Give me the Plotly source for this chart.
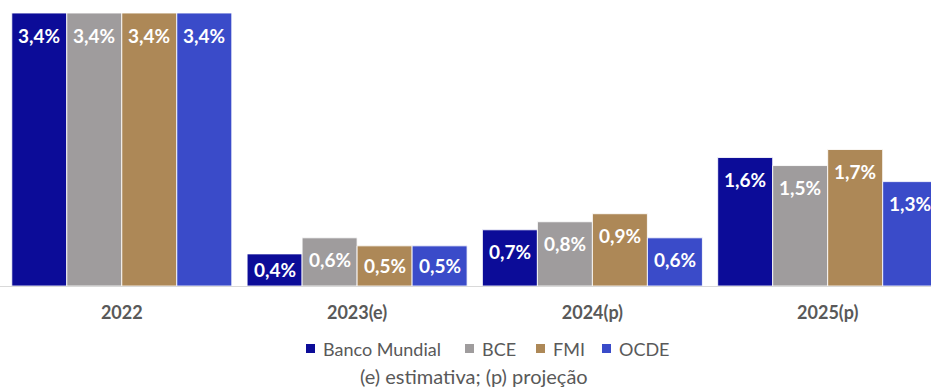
import plotly.graph_objects as go

# Projeções de crescimento por instituição (%)
categorias = ["2022", "2023(e)", "2024(p)", "2025(p)"]
banco_mundial = [3.4, 0.4, 0.7, 1.6]
bce = [3.4, 0.6, 0.8, 1.5]
fmi = [3.4, 0.5, 0.9, 1.7]
ocde = [3.4, 0.5, 0.6, 1.3]

series = [
    ("Banco Mundial", banco_mundial, "#0C0C98"),
    ("BCE", bce, "#9F9C9D"),
    ("FMI", fmi, "#AD8857"),
    ("OCDE", ocde, "#3A4BC9"),
]

FONT = "Lato, 'Open Sans', sans-serif"
CINZA_TEXTO = "#595959"

# geometria do gráfico
LARGURA, ALTURA = 931, 390
ALTURA_PLOT = 286          # px entre o topo e o eixo
Y_MAX = 3.562
PX_POR_UNIDADE = ALTURA_PLOT / Y_MAX
BARGAP = 0.065
LARGURA_CAT = 235.3        # px por categoria
LARGURA_BARRA = LARGURA_CAT * (1 - BARGAP) / len(series)
OFFSET_ROTULO = 22         # distância do topo da barra ao centro do rótulo


def paper_x(px):
    return px / LARGURA


def paper_y(py):
    return (ALTURA_PLOT - py) / ALTURA_PLOT


fig = go.Figure()
anotacoes = []
formas = []
for j, (nome, valores, cor) in enumerate(series):
    fig.add_trace(go.Bar(
        name=nome,
        x=categorias,
        y=valores,
        marker=dict(color=cor, line=dict(color="rgba(255,255,255,0.85)", width=1)),
        hoverinfo="name+y",
        showlegend=False,
    ))
    deslocamento_x = (j - (len(series) - 1) / 2) * LARGURA_BARRA
    for i, v in enumerate(valores):
        altura_px = v * PX_POR_UNIDADE
        anotacoes.append(dict(
            x=i, y=v, xref="x", yref="y",
            text=f"{v:.1f}%".replace(".", ","),
            showarrow=False,
            xshift=deslocamento_x,
            yshift=-min(OFFSET_ROTULO, altura_px / 2),
            xanchor="center", yanchor="middle",
            font=dict(color="white", size=19, family=FONT, weight="bold"),
        ))

# legenda desenhada à mão: quadrado + nome
legenda_x = [306, 465, 536, 602]   # borda esquerda de cada quadrado (px)
LEGENDA_Y = 348.5
LADO = 9
for (nome, _, cor), x0 in zip(series, legenda_x):
    formas.append(dict(
        type="rect", xref="paper", yref="paper",
        x0=paper_x(x0), x1=paper_x(x0 + LADO),
        y0=paper_y(LEGENDA_Y + LADO / 2), y1=paper_y(LEGENDA_Y - LADO / 2),
        fillcolor=cor, line=dict(width=0),
    ))
    anotacoes.append(dict(
        text=nome, xref="paper", yref="paper",
        x=paper_x(x0 + LADO + 6), y=paper_y(LEGENDA_Y + 0.5),
        xanchor="left", yanchor="middle", showarrow=False,
        font=dict(size=18, color=CINZA_TEXTO, family=FONT),
    ))

anotacoes.append(dict(
    text="(e) estimativa; (p) projeção",
    xref="paper", yref="paper",
    x=paper_x(473.5), y=paper_y(376),
    xanchor="center", yanchor="middle",
    showarrow=False,
    font=dict(size=20, color=CINZA_TEXTO, family=FONT),
))

fig.update_layout(
    width=LARGURA, height=ALTURA,
    margin=dict(l=0, r=0, t=0, b=ALTURA - ALTURA_PLOT),
    barmode="group",
    bargap=BARGAP,
    bargroupgap=0,
    separators=",.",
    paper_bgcolor="white",
    plot_bgcolor="white",
    font=dict(family=FONT, color=CINZA_TEXTO, size=18),
    showlegend=False,
    xaxis=dict(
        type="category",
        range=[-0.5176, 3.439],
        showline=True, linecolor="#D9D9D9", linewidth=1,
        ticks="", showgrid=False,
        tickfont=dict(size=18, color=CINZA_TEXTO, family=FONT, weight="bold"),
        ticklabelstandoff=10,
    ),
    yaxis=dict(
        range=[0, Y_MAX],
        visible=False,
        showgrid=False, zeroline=False,
    ),
    shapes=formas,
    annotations=anotacoes,
)

fig.write_html("out.html")
